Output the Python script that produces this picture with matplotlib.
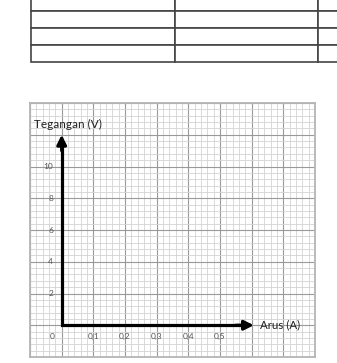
import matplotlib
matplotlib.use('Agg')
import matplotlib.pyplot as plt
from matplotlib.ticker import MultipleLocator

plt.rcParams['font.family'] = ['Lato', 'DejaVu Sans']

# empty table rows at the top of the page
TABLE_ROWS = 4
TABLE_COLS = 3

# graph paper axes labels
VOLT_TICKS = [0, 2, 4, 6, 8, 10]
AMP_TICKS = [0.1, 0.2, 0.3, 0.4, 0.5]
Y_LABEL = 'Tegangan (V)'
X_LABEL = 'Arus (A)'

fig = plt.figure(figsize=(3.37, 3.63), dpi=100)
fig.patch.set_facecolor('white')

# --- table ---
tab_ax = fig.add_axes([0, 0, 1, 1])
tab_ax.set_axis_off()
cells = [['' for _ in range(TABLE_COLS)] for _ in range(TABLE_ROWS)]
tbl = tab_ax.table(cellText=cells, bbox=[31 / 337, 1 - 62 / 363,
                                         430 / 337, 68 / 363],
                   colWidths=[144, 143, 143])
for key, cell in tbl.get_celld().items():
    cell.set_edgecolor('#444444')
    cell.set_linewidth(1.2)
    cell.set_facecolor('white')

# --- graph paper ---
ax = fig.add_axes([30 / 337, 6 / 363, 285 / 337, 254 / 363])
ax.set_xlim(-0.1, 0.8)
ax.set_ylim(-2, 14)
ax.xaxis.set_major_locator(MultipleLocator(0.1))
ax.xaxis.set_minor_locator(MultipleLocator(0.02))
ax.yaxis.set_major_locator(MultipleLocator(2))
ax.yaxis.set_minor_locator(MultipleLocator(0.4))
ax.grid(which='minor', color='#d3d3d3', lw=0.6)
ax.grid(which='major', color='#999999', lw=0.8)
ax.set_axisbelow(True)
ax.tick_params(which='both', length=0, labelbottom=False, labelleft=False)
for s in ax.spines.values():
    s.set_color('#b5b5b5')
    s.set_linewidth(1.3)

for v in VOLT_TICKS:
    if v == 0:
        continue
    ax.text(-0.027, v, str(v), ha='right', va='center',
            fontsize=6, color='#555555')
ax.text(-0.03, -0.72, '0', ha='center', va='center',
        fontsize=6, color='#555555')
for a in AMP_TICKS:
    ax.text(a, -0.72, f'{a:.1f}'.replace('.', ','), ha='center',
            va='center', fontsize=6, color='#555555')

# axes arrows
ax.plot([0, 0, 0.57], [11.5, 0, 0], color='black', lw=2.3,
        solid_joinstyle='miter', solid_capstyle='butt')
ax.annotate('', xy=(0, 12.0), xytext=(0, 11.0),
            arrowprops=dict(arrowstyle='-|>', lw=2.3, color='black',
                            mutation_scale=14, shrinkA=0, shrinkB=0))
ax.annotate('', xy=(0.607, 0), xytext=(0.55, 0),
            arrowprops=dict(arrowstyle='-|>', lw=2.3, color='black',
                            mutation_scale=14, shrinkA=0, shrinkB=0))

ax.text(-0.087, 12.66, Y_LABEL, ha='left', va='center',
        fontsize=8.5, color='#222222')
ax.text(0.626, 0.05, X_LABEL, ha='left', va='center',
        fontsize=8.3, color='#222222')

fig.savefig('out.png', dpi=100, facecolor='white')
